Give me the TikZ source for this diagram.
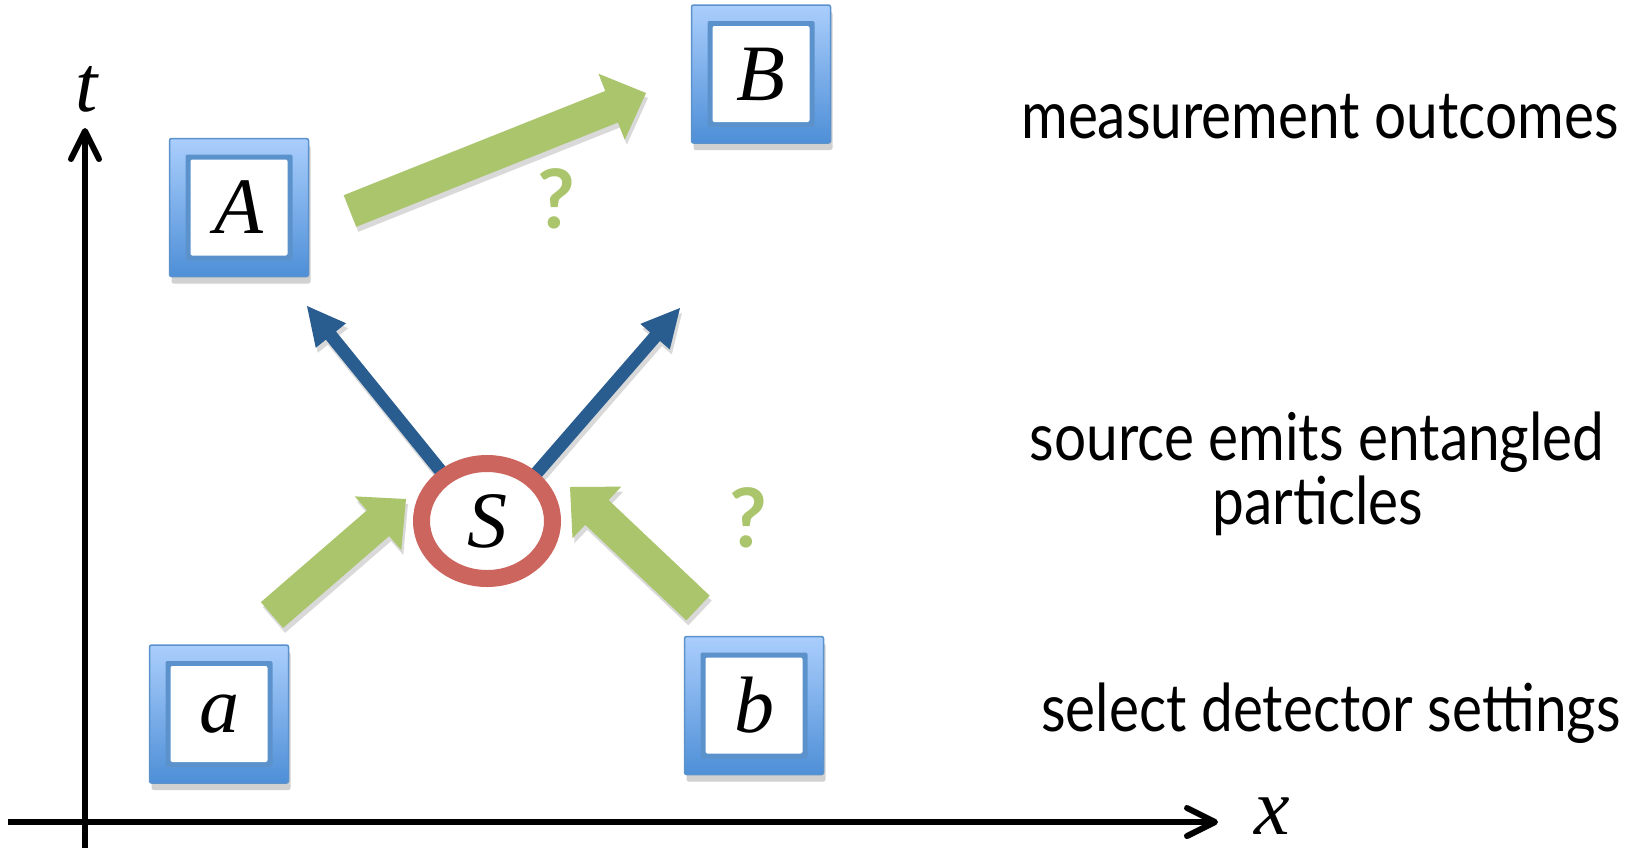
\documentclass[tikz,border=0pt]{standalone}
\usepackage{fontspec}
\usetikzlibrary{calc,shapes.geometric,shadows}
\newfontfamily\timesfont{Liberation Serif}
\newfontfamily\labelfont{Lato}[FakeStretch=0.86]
\newfontfamily\qfont{Lato}
\definecolor{boxtop}{RGB}{170,206,252}
\definecolor{boxbot}{RGB}{78,143,215}
\definecolor{boxedge}{RGB}{92,146,204}
\definecolor{greenarr}{RGB}{170,197,107}
\definecolor{bluearr}{RGB}{41,93,144}
\definecolor{ringred}{RGB}{204,101,93}
\newcommand\blockarrow[6]{%
  \coordinate (hb) at ($(#2)!#5!(#1)$);
  \fill[#6] ($(#1)!#3!90:(#2)$) -- ($(hb)!#3!90:(#2)$) -- ($(hb)!#4!90:(#2)$) -- (#2)
    -- ($(hb)!#4!-90:(#2)$) -- ($(hb)!#3!-90:(#2)$) -- ($(#1)!#3!-90:(#2)$) -- cycle;
}
\tikzset{
  bluebox/.style={rectangle, minimum width=139, minimum height=138, inner sep=0,
    top color=boxtop, bottom color=boxbot, draw=boxedge, line width=1.5, rounded corners=2,
    path picture={
      \fill[boxedge] ([shift={(16,16)}]path picture bounding box.north west) rectangle ([shift={(-16,-16)}]path picture bounding box.south east);
      \fill[white] ([shift={(21,21)}]path picture bounding box.north west) rectangle ([shift={(-21,-21)}]path picture bounding box.south east);
    },
    drop shadow={shadow xshift=2pt, shadow yshift=-7pt, opacity=0.18, fill=black},
    font=\fontsize{80}{90}\selectfont\timesfont\itshape},
  ring/.style={ellipse, minimum width=131, minimum height=115, inner sep=0, draw=ringred,
    line width=17, fill=white, drop shadow={shadow xshift=2pt, shadow yshift=-6pt, opacity=0.15, fill=black},
    font=\fontsize{80}{90}\selectfont\timesfont\itshape},
  greenblk/.style={fill=greenarr, drop shadow={shadow xshift=2pt, shadow yshift=-5pt, opacity=0.15, fill=black}},
  blueblk/.style={fill=bluearr, drop shadow={shadow xshift=2pt, shadow yshift=-5pt, opacity=0.15, fill=black}},
  axis/.style={line width=6, line join=round, draw=black},
  mathlbl/.style={inner sep=0, font=\fontsize{80}{90}\selectfont\timesfont\itshape},
  qmark/.style={inner sep=0, text=greenarr, font=\fontsize{82}{86}\selectfont\qfont\bfseries},
  sidetxt/.style={inner sep=0, anchor=base, font=\fontsize{66}{70}\selectfont\labelfont},
}
\begin{document}
\begin{tikzpicture}[x=1pt, y=-1pt]
\useasboundingbox[fill=white] (0,0) rectangle (1627,847);
% axes
\coordinate (yb) at (85,852);
\coordinate (yt) at (85,131);
\coordinate (xl) at (8,822);
\coordinate (xr) at (1215,822);
\draw[axis] (yb) -- (yt);
\draw[axis, line cap=round] ($(yt)+(-14,28)$) -- (yt) -- ($(yt)+(14,28)$);
\draw[axis] (xl) -- (xr);
\draw[axis, line cap=round] ($(xr)+(-28,-14)$) -- (xr) -- ($(xr)+(-28,14)$);
\node[mathlbl] (tlab) at (87,89) {t};
\node[mathlbl] (xlab) at (1272,816) {x};
% green arrows
\coordinate (aS0) at (272,615); \coordinate (aS1) at (406,499);
\coordinate (bS0) at (698,608); \coordinate (bS1) at (570,487);
\coordinate (AB0) at (350,211); \coordinate (AB1) at (646,93);
\blockarrow{aS0}{aS1}{17pt}{35.5pt}{37pt}{greenblk}
\blockarrow{bS0}{bS1}{17pt}{35.5pt}{37pt}{greenblk}
\blockarrow{AB0}{AB1}{17pt}{35.5pt}{37pt}{greenblk}
% blue arrows
\coordinate (SLt) at (452,485); \coordinate (SL) at (307,306);
\coordinate (SRt) at (527,484); \coordinate (SR) at (680,308);
\blockarrow{SLt}{SL}{6.5pt}{19.5pt}{38pt}{blueblk}
\blockarrow{SRt}{SR}{6.5pt}{19.5pt}{38pt}{blueblk}
% source
\node[ring] (S) at (487,521) {S};
% boxes
\node[bluebox] (A) at (239,207.5) {A};
\node[bluebox] (B) at (761,74) {B};
\node[bluebox] (a) at (219,714) {a};
\node[bluebox] (b) at (754,705.5) {b};
% question marks
\node[qmark] (q1) at (556,199) {?};
\node[qmark] (q2) at (748,518) {?};
% side texts
\node[sidetxt] (m1) at (1320,138) {measurement outcomes};
\node[sidetxt] (s1) at (1317,460) {source emits entangled};
\node[sidetxt] (s2) at (1318,524) {particles};
\node[sidetxt] (d1) at (1331,731) {select detector settings};
\end{tikzpicture}
\end{document}
